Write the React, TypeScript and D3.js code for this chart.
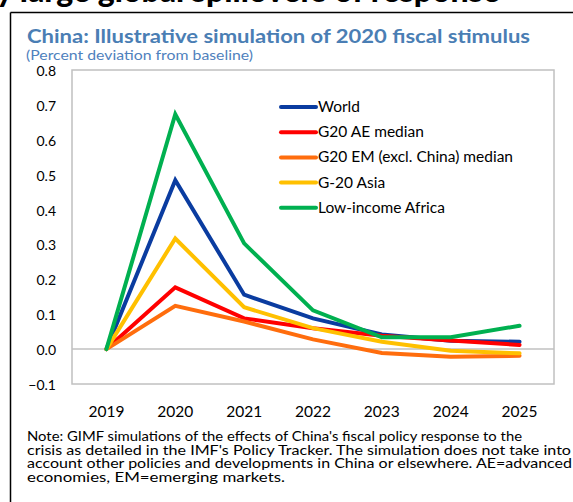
import * as d3 from "d3";

const years = ["2019", "2020", "2021", "2022", "2023", "2024", "2025"];
const yTicks = [-0.1, 0, 0.1, 0.2, 0.3, 0.4, 0.5, 0.6, 0.7, 0.8];

const world = [0, 0.484, 0.156, 0.088, 0.042, 0.024, 0.021];
const g20Ae = [0, 0.177, 0.088, 0.06, 0.038, 0.025, 0.012];
const g20Em = [0, 0.124, 0.079, 0.028, -0.011, -0.022, -0.019];
const g20Asia = [0, 0.317, 0.12, 0.06, 0.021, -0.005, -0.012];
const lowIncomeAfrica = [0, 0.673, 0.303, 0.111, 0.034, 0.034, 0.067];

const series = [
  { name: "World", values: world, color: "#0a3ca0" },
  { name: "G20 AE median", values: g20Ae, color: "#ff0000" },
  { name: "G20 EM (excl. China) median", values: g20Em, color: "#ff6d0d" },
  { name: "G-20 Asia", values: g20Asia, color: "#ffc000" },
  { name: "Low-income Africa", values: lowIncomeAfrica, color: "#00b050" },
];

const noteLines = [
  "Note: GIMF simulations of the effects of China's fiscal policy response to the",
  "crisis as detailed in the IMF's Policy Tracker. The simulation does not take into",
  "account other policies and developments in China or elsewhere.  AE=advanced",
  "economies, EM=emerging markets.",
];
const noteWidths = [495, 544, 545, 258];

const font = "Lato, 'Open Sans', sans-serif";

export default function App() {
  const width = 573;
  const height = 502;
  const plot = { left: 72, right: 554, top: 70, bottom: 384 };

  const x = d3.scalePoint<string>().domain(years).range([plot.left, plot.right]).padding(0.5);
  const y = d3.scaleLinear().domain([-0.1, 0.8]).range([plot.bottom, plot.top]);

  const path = d3
    .line<number>()
    .x((_, i) => x(years[i]) ?? 0)
    .y((d) => y(d));

  return (
    <div style={{ position: "fixed", left: 0, top: 0 }}>
      <svg width={width} height={height} style={{ display: "block", background: "#fff" }}>
        {/* clipped heading from the page above */}
        <text x={-4} y={2} fontFamily={font} fontWeight={900} fontSize={32} fill="#000">
          y large global spillovers of response
        </text>
        <line x1={10.5} y1={12.5} x2={width} y2={12.5} stroke="#000" strokeWidth={1.5} />
        <line x1={10.5} y1={12.5} x2={10.5} y2={height} stroke="#000" strokeWidth={1.5} />

        <text x={27} y={43} fontFamily={font} fontWeight={700} fontSize={19.5} fill="#4a7eb4" textLength={503} lengthAdjust="spacingAndGlyphs">
          China: Illustrative simulation of 2020 fiscal stimulus
        </text>
        <text x={26} y={59.5} fontFamily={font} fontSize={13.5} fill="#4f81bd" textLength={227} lengthAdjust="spacingAndGlyphs">
          (Percent deviation from baseline)
        </text>

        <rect
          x={plot.left}
          y={plot.top}
          width={plot.right - plot.left}
          height={plot.bottom - plot.top}
          fill="none"
          stroke="#c0c0c0"
          strokeWidth={1.5}
        />
        <line x1={plot.left} x2={plot.right} y1={y(0)} y2={y(0)} stroke="#c0c0c0" strokeWidth={1.5} />

        {yTicks.map((t) => (
          <text key={t} x={56} y={y(t) + 6} textAnchor="end" fontFamily={font} fontSize={14} fill="#000">
            {d3.format(".1f")(t)}
          </text>
        ))}

        {years.map((yr) => (
          <text key={yr} x={x(yr)} y={417} textAnchor="middle" fontFamily={font} fontSize={15.5} fill="#000">
            {yr}
          </text>
        ))}

        {series.map((s) => (
          <path
            key={s.name}
            d={path(s.values) ?? ""}
            fill="none"
            stroke={s.color}
            strokeWidth={4}
            strokeLinejoin="miter"
            strokeLinecap="round"
          />
        ))}

        {series.map((s, i) => {
          const ly = 107 + i * 25.2;
          return (
            <g key={s.name}>
              <line x1={281} x2={316} y1={ly} y2={ly} stroke={s.color} strokeWidth={4} strokeLinecap="round" />
              <text x={318} y={ly + 5} fontFamily={font} fontSize={15.5} fill="#000">
                {s.name}
              </text>
            </g>
          );
        })}

        {noteLines.map((l, i) => (
          <text
            key={i}
            x={27}
            y={441 + i * 13.7}
            fontFamily={font}
            fontSize={12.5}
            fill="#000"
            textLength={noteWidths[i]}
            lengthAdjust="spacingAndGlyphs"
          >
            {l}
          </text>
        ))}
      </svg>
    </div>
  );
}
